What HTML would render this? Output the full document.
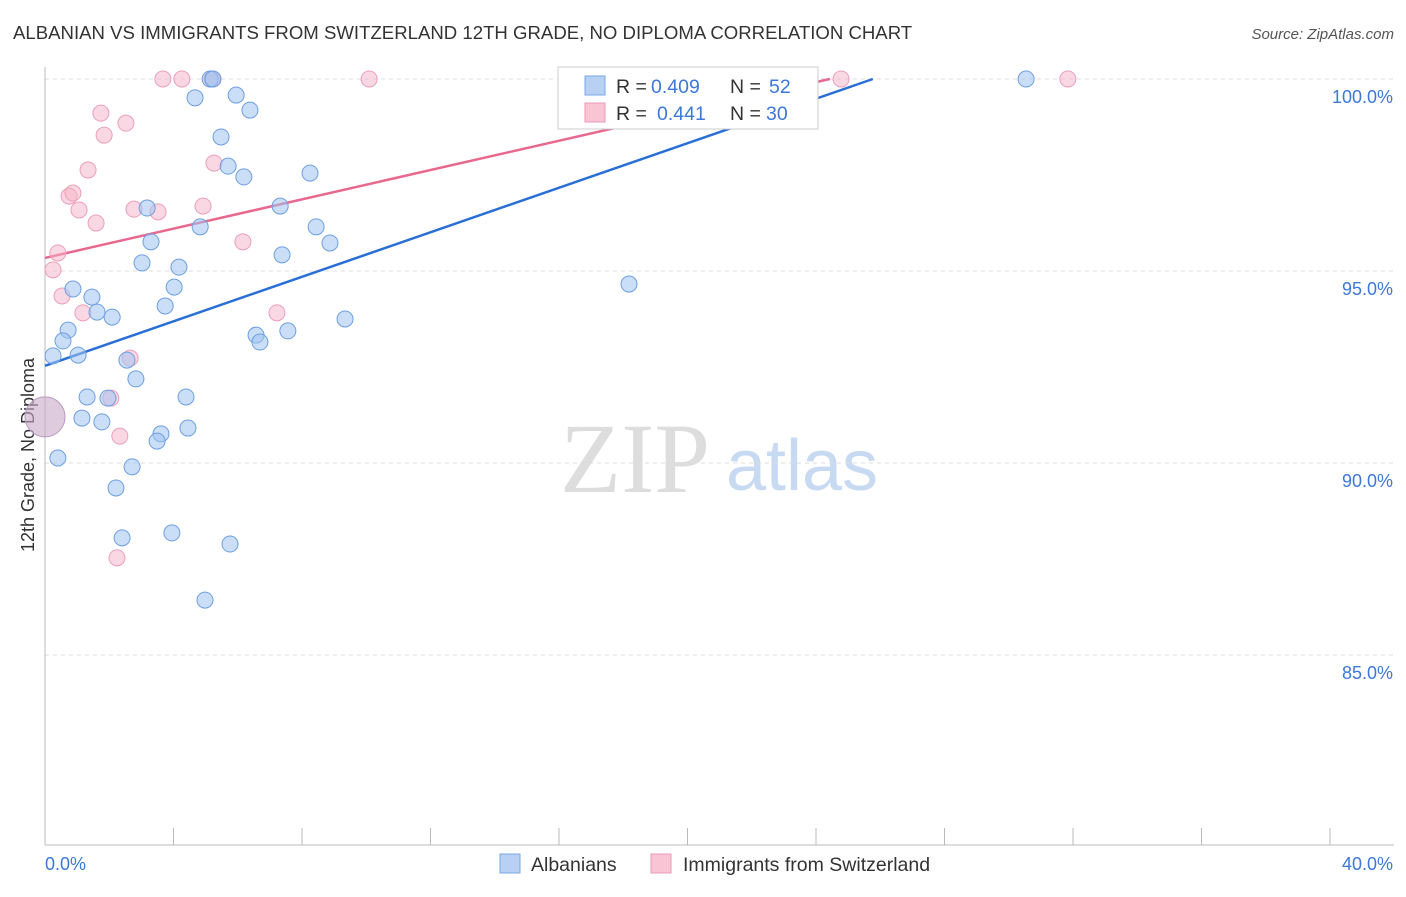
<!DOCTYPE html>
<html><head><meta charset="utf-8"><style>
body{margin:0;background:#fff;font-family:"Liberation Sans",sans-serif;}
svg text{font-family:"Liberation Sans",sans-serif;}
svg text.serif{font-family:"Liberation Serif",serif;}
</style></head><body>
<svg id="chart" width="1406" height="892" viewBox="0 0 1406 892" xmlns="http://www.w3.org/2000/svg">
<text x="13" y="39" font-size="18.6" fill="#333">ALBANIAN VS IMMIGRANTS FROM SWITZERLAND 12TH GRADE, NO DIPLOMA CORRELATION CHART</text>
<text x="1394" y="39" font-size="15" fill="#555" text-anchor="end" font-style="italic">Source: ZipAtlas.com</text>
<text transform="translate(34,455) rotate(-90)" font-size="18" fill="#333" text-anchor="middle">12th Grade, No Diploma</text>
<g>
<text class="serif" x="635" y="492" font-size="100" fill="#ddd" text-anchor="middle">ZIP</text>
<text x="802" y="490" font-size="72" fill="#c8daf2" text-anchor="middle">atlas</text>
</g>
<g id="grid"></g><g id="axes"></g><g id="trends"></g><g id="dots"></g>
<g>
<rect x="558" y="67" width="260" height="62" fill="#fff" stroke="#ccc"/>
<rect x="585" y="76" width="20" height="19" fill="#b7d0f3" stroke="#7aa8e6"/>
<rect x="585" y="103" width="20" height="19" fill="#f9c5d5" stroke="#eb9ab4"/>
<text x="616" y="93" font-size="19.5" fill="#333">R =</text>
<text x="651" y="93" font-size="19.5" fill="#3c78d8">0.409</text>
<text x="730" y="93" font-size="19.5" fill="#333">N =</text>
<text x="769" y="93" font-size="19.5" fill="#3c78d8">52</text>
<text x="616" y="120" font-size="19.5" fill="#333">R =</text>
<text x="657" y="120" font-size="19.5" fill="#3c78d8">0.441</text>
<text x="730" y="120" font-size="19.5" fill="#333">N =</text>
<text x="766" y="120" font-size="19.5" fill="#3c78d8">30</text>
</g>
<g>
<rect x="500" y="854" width="20" height="19" fill="#b7d0f3" stroke="#7aa8e6"/>
<text x="531" y="871" font-size="19.5" fill="#333">Albanians</text>
<rect x="651" y="854" width="20" height="19" fill="#f9c5d5" stroke="#eb9ab4"/>
<text x="683" y="871" font-size="19.5" fill="#333">Immigrants from Switzerland</text>
</g>
</svg>
<script>
const blueX=[5.14,5.23,4.67,5.95,6.38,5.48,5.70,6.19,8.25,7.32,3.18,8.44,4.83,8.87,3.30,7.38,3.02,4.17,4.02,0.87,1.46,3.74,1.62,2.09,9.34,6.57,7.56,0.72,0.56,6.69,0.25,1.03,2.55,2.83,1.31,1.96,4.39,1.15,1.77,4.45,3.61,3.49,0.40,2.71,2.21,2.40,3.95,5.76,4.98,18.18,30.54];
const blueY=[100,100,99.51,99.58,99.19,98.49,97.73,97.45,97.55,96.69,96.64,96.15,96.15,95.73,95.76,95.42,95.21,95.10,94.58,94.53,94.32,94.09,93.93,93.80,93.75,93.33,93.44,93.46,93.18,93.15,92.79,92.81,92.68,92.19,91.72,91.69,91.72,91.17,91.07,90.91,90.76,90.57,90.13,89.90,89.35,88.05,88.18,87.89,86.43,94.66,100];
const pinkX=[3.67,4.26,5.20,10.09,18.02,24.78,31.84,1.74,2.52,1.84,1.34,5.26,0.75,0.87,1.06,2.77,3.52,4.92,1.59,6.16,0.40,0.25,0.53,1.18,7.22,2.65,2.05,2.33,2.24];
const pinkY=[100,100,100,100,100,100,100,99.11,98.85,98.54,97.63,97.81,96.95,97.03,96.59,96.61,96.54,96.69,96.25,95.76,95.47,95.03,94.35,93.91,93.91,92.73,91.69,90.70,87.53];
const bigX=[0];const bigY=[91.2];
const blueTrend=[0,92.53,25.77,100];
const pinkTrend=[0,95.34,24.43,100];
const yTicks=[100,95,90,85];
const xTickLabels=["0.0%","40.0%"];
const NS="http://www.w3.org/2000/svg";
const sx=v=>45+v*(1285/40);
const sy=v=>79+(100-v)*38.4;
function mk(t,a,p){const e=document.createElementNS(NS,t);for(const k in a)e.setAttribute(k,a[k]);p.appendChild(e);return e;}
const grid=document.getElementById('grid'),axes=document.getElementById('axes');
yTicks.forEach(v=>{
 const l=mk('line',{x1:45,x2:1394,y1:sy(v),y2:sy(v),stroke:'#ddd','stroke-dasharray':'4,4'},grid);
 
 
 const t=mk('text',{x:1393,y:sy(v)+24,'font-size':18,fill:'#3c78d8','text-anchor':'end'},axes);
 t.textContent=v.toFixed(1)+'%';
 
 
});
const ax=mk('line',{x1:45,x2:45,y1:67,y2:845,stroke:'#bbb'},axes);


const bx=mk('line',{x1:45,x2:1394,y1:845,y2:845,stroke:'#bbb'},axes);


for(let i=0;i<=40;i+=4){const tk=mk('line',{x1:sx(i),x2:sx(i),y1:828,y2:845,stroke:'#bbb'},axes);
 
 }
[[0,'start'],[40,'end']].forEach((p,i)=>{const t=mk('text',{x:sx(p[0])+(i?63:0),y:870,'font-size':18,fill:'#3c78d8','text-anchor':p[1]},axes);t.textContent=xTickLabels[i];
 
 });
const tr=document.getElementById('trends');
const bl=mk('line',{x1:sx(blueTrend[0]),y1:sy(blueTrend[1]),x2:sx(blueTrend[2]),y2:sy(blueTrend[3]),stroke:'#2a6fd6','stroke-width':2.5},tr);


const pl=mk('line',{x1:sx(pinkTrend[0]),y1:sy(pinkTrend[1]),x2:sx(pinkTrend[2]),y2:sy(pinkTrend[3]),stroke:'#e8688f','stroke-width':2.5},tr);


const dots=document.getElementById('dots');
pinkX.forEach((x,i)=>{const c=mk('circle',{cx:sx(x),cy:sy(pinkY[i]),r:8,fill:'rgba(246,178,200,0.5)',stroke:'#eba0b8','stroke-width':1},dots);
 
 });
blueX.forEach((x,i)=>{const c=mk('circle',{cx:sx(x),cy:sy(blueY[i]),r:8,fill:'rgba(160,195,240,0.55)',stroke:'#6d9fe2','stroke-width':1},dots);
 
 });
bigX.forEach((x,i)=>{const c=mk('circle',{cx:sx(x),cy:sy(bigY[i]),r:20,fill:'rgba(200,170,200,0.6)',stroke:'#b99ac0','stroke-width':1},dots);
 
 });
</script>
</body></html>
